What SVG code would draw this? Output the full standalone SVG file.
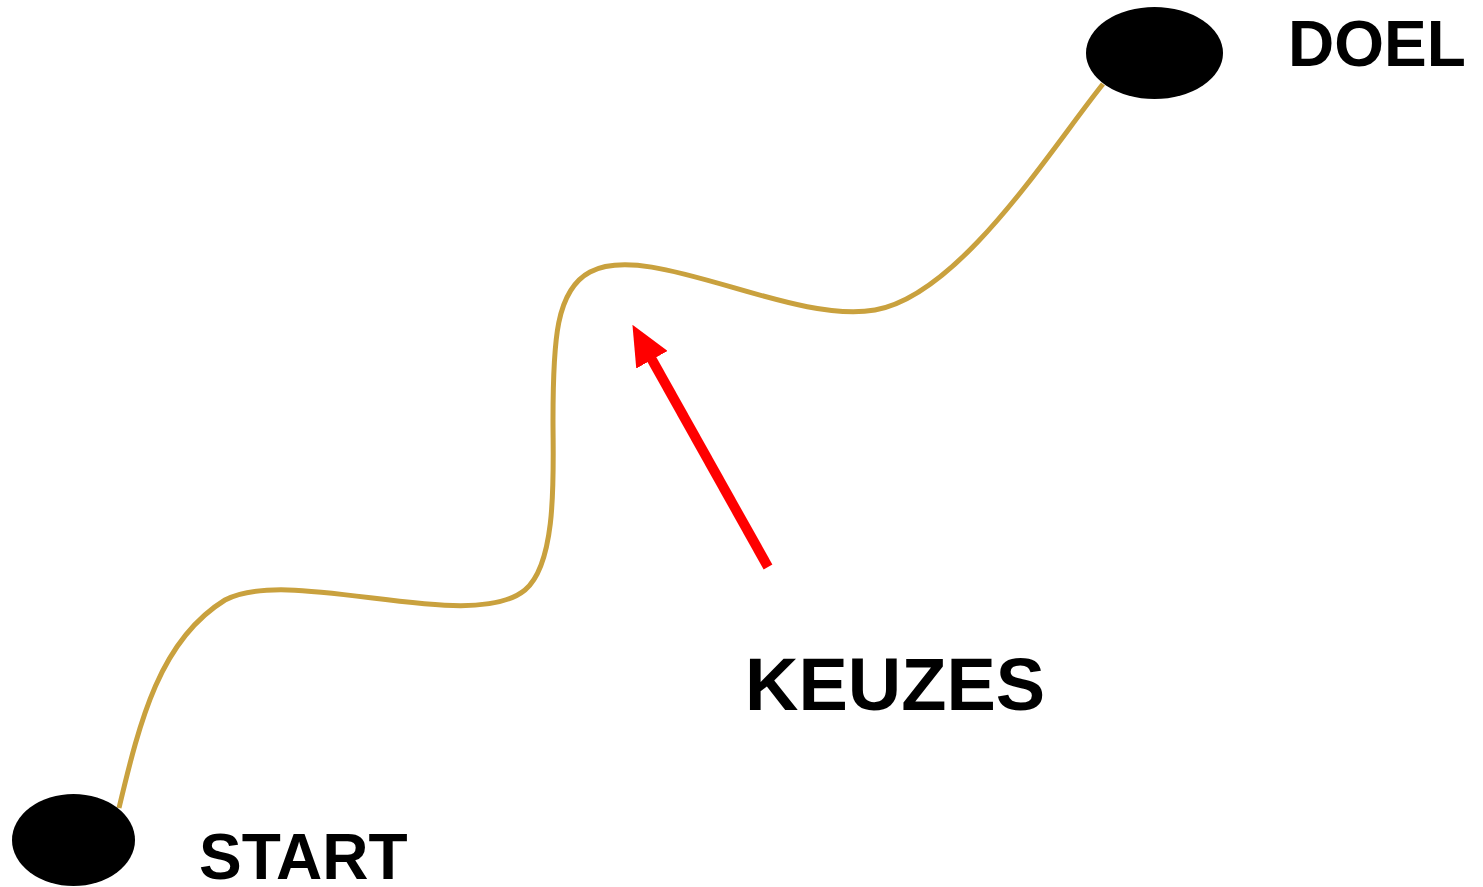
<svg xmlns="http://www.w3.org/2000/svg" width="1483" height="887" viewBox="0 0 1483 887">
<style>
.node{fill:#000}
.lbl{font-family:"Liberation Sans",Arial,sans-serif;font-weight:bold;fill:#000}
.path{fill:none;stroke:#C9A13E;stroke-width:5}
.arrow{stroke:#FF0000;stroke-width:10;fill:none}
</style>
<defs>
<marker id="head" markerUnits="userSpaceOnUse" viewBox="0 0 40 36" refX="2" refY="18" markerWidth="40" markerHeight="36" orient="auto">
<polygon points="0,0 40,18 0,36" fill="#FF0000"/>
</marker>
</defs>
<rect width="1483" height="887" fill="#fff"/>
<g id="connectors">
<path class="path" d="M 119 808 C 140 720, 160 640, 225 600 C 290 565, 470 635, 525 590 C 558 562, 553 470, 553 420 C 553 340, 556 290, 590 272 C 650 240, 790 325, 875 310 C 960 295, 1050 150, 1103 84"/>
<line class="arrow" x1="768" y1="567" x2="651" y2="358" marker-end="url(#head)"/>
</g>
<g id="start">
<ellipse class="node" cx="73.5" cy="840" rx="61.5" ry="46"/>
<text class="lbl" x="199" y="879" font-size="64">START</text>
</g>
<g id="doel">
<ellipse class="node" cx="1154.5" cy="53" rx="68.5" ry="46"/>
<text class="lbl" x="1288" y="66" font-size="64">DOEL</text>
</g>
<g id="keuzes">
<text class="lbl" x="745" y="710" font-size="74">KEUZES</text>
</g>
</svg>
